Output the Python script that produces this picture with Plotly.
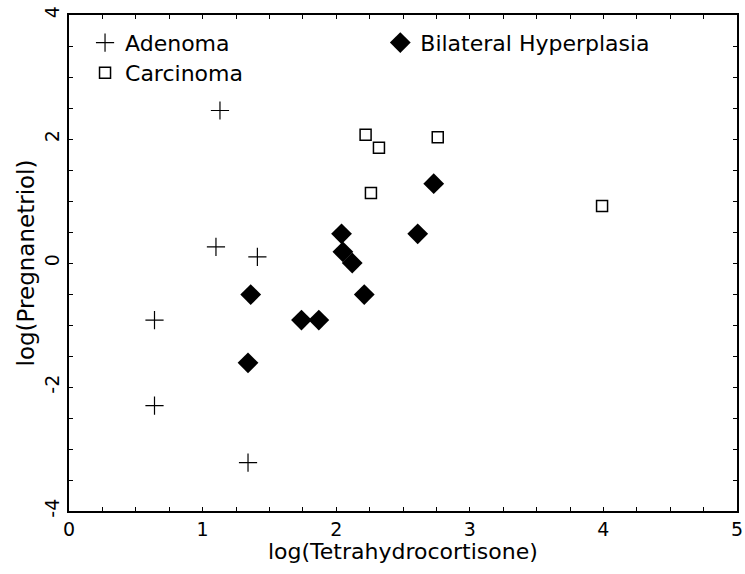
import plotly.graph_objects as go

# Adenoma
a_x = [1.13, 1.10, 0.64, 1.34, 1.41, 0.64]
a_y = [2.46, 0.26, -2.30, -3.22, 0.10, -0.92]
# Bilateral Hyperplasia
b_x = [2.12, 1.34, 1.36, 2.05, 2.21, 2.73, 2.04, 1.87, 1.74, 2.61]
b_y = [0.00, -1.61, -0.51, 0.18, -0.51, 1.28, 0.47, -0.92, -0.92, 0.47]
# Carcinoma
c_x = [2.32, 2.22, 2.26, 3.99, 2.76]
c_y = [1.86, 2.07, 1.13, 0.92, 2.03]

x_ticks = [0, 1, 2, 3, 4, 5]
y_ticks = [-4, -2, 0, 2, 4]

FAM = "DejaVu Sans"
font = dict(family=FAM, color="black")

fig = go.Figure()
fig.add_trace(go.Scatter(x=a_x, y=a_y, mode="markers", name="Adenoma",
                         marker=dict(symbol="cross-thin", size=13, color="black",
                                     line=dict(width=1.2, color="black")),
                         legend="legend"))
fig.add_trace(go.Scatter(x=c_x, y=c_y, mode="markers", name="Carcinoma",
                         marker=dict(symbol="square-open", size=11, color="black",
                                     line=dict(width=1.5, color="black")),
                         legend="legend2"))
fig.add_trace(go.Scatter(x=b_x, y=b_y, mode="markers", name="Bilateral Hyperplasia",
                         marker=dict(symbol="diamond", size=16, color="black",
                                     line=dict(width=0)),
                         legend="legend3"))

leg_common = dict(font=dict(family=FAM, size=22, color="black"),
                  bgcolor="rgba(0,0,0,0)", itemsizing="trace", itemwidth=30,
                  xanchor="left", yanchor="middle", tracegroupgap=0)

fig.update_layout(
    width=745, height=574,
    margin=dict(l=69, r=8, t=15, b=63),
    paper_bgcolor="white", plot_bgcolor="white",
    font=font,
    showlegend=True,
    legend=dict(x=0.024, y=0.944, **leg_common),
    legend2=dict(x=0.024, y=0.883, **leg_common),
    legend3=dict(x=0.466, y=0.944, **leg_common),
    xaxis=dict(range=[0, 5], tickvals=x_ticks, ticktext=[str(v) for v in x_ticks],
               ticks="inside", ticklen=4, tickwidth=1, tickcolor="black",
               minor=dict(dtick=0.25, ticks="inside", ticklen=4, tickcolor="black"),
               showline=True, linecolor="black", linewidth=2, mirror="ticks",
               showgrid=False, zeroline=False, automargin=False,
               ticklabeloverflow="allow",
               tickfont=dict(size=19, family=FAM, color="black")),
    yaxis=dict(range=[-4, 4], tickvals=y_ticks, ticktext=[str(v) for v in y_ticks],
               ticks="inside", ticklen=4, tickwidth=1, tickcolor="black",
               minor=dict(dtick=0.5, ticks="inside", ticklen=4, tickcolor="black"),
               showline=True, linecolor="black", linewidth=2, mirror="ticks",
               showgrid=False, zeroline=False, tickangle=-90, automargin=False,
               ticklabeloverflow="allow",
               tickfont=dict(size=19, family=FAM, color="black"),
               title=dict(text="log(Pregnanetriol)", standoff=0,
                          font=dict(size=23, family=FAM, color="black"))),
    annotations=[dict(text="log(Tetrahydrocortisone)", xref="paper", yref="paper",
                      x=0.5, y=0, yshift=-40, xanchor="center", yanchor="middle",
                      showarrow=False, font=dict(size=22, family=FAM, color="black"))],
)

fig.write_html("out.html", config={"displayModeBar": False},
               post_script="document.body.style.margin='0';"
                           "document.body.style.overflow='hidden';")
